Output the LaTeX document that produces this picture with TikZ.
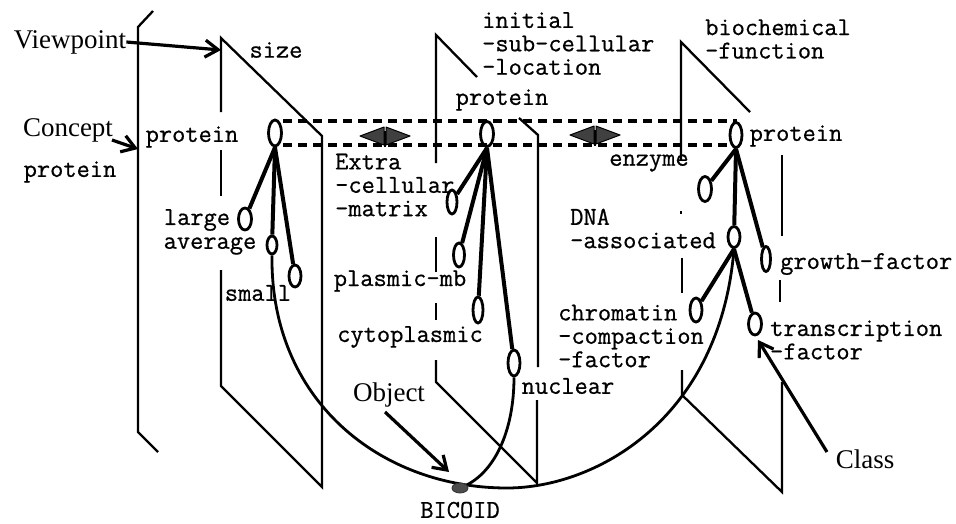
\documentclass[tikz,border=0pt]{standalone}
\usepackage{fontspec}
\setmainfont{Liberation Serif}
\newfontfamily\monolbl{Latin Modern Mono}[FakeBold=0.7]
\usetikzlibrary{arrows.meta,shapes.geometric,backgrounds}
\begin{document}
\begin{tikzpicture}[x=1pt,y=-1pt,
  lbl/.style={font=\fontsize{25.7}{23.4}\selectfont\monolbl, inner sep=0pt, align=left},
  big/.style={font=\fontsize{27}{30}\selectfont, inner sep=0pt},
  ov/.style={ellipse, draw, line width=2.8pt, inner sep=0pt},
  plane/.style={line width=2.3pt, line join=miter},
  edge/.style={line width=4pt},
  ptr/.style={line width=3.2pt, -{Straight Barb[length=13pt,width=17pt,line width=3.2pt]}},
  dsh/.style={line width=3.2pt, dash pattern=on 9pt off 6pt},
  arcline/.style={line width=2.8pt},
  dbl/.style={fill=black!75, draw=black, line width=1pt, line join=round},
]
\useasboundingbox (0,0) rectangle (956,523);

% ---- planes ----
\draw[plane] (153,11) -- (138,27) -- (138,432) -- (158,452);
\draw[plane] (221,112) -- (221,38) -- (322,136) -- (322,487) -- (221,386) -- (221,270);
\draw[plane] (221,150) -- (221,196);
\draw[plane] (436,163) -- (436,35) -- (477,77);
\draw[plane] (519,118) -- (538,135) -- (538,367);
\draw[plane] (436,237) -- (436,272);
\draw[plane] (436,303) -- (436,320);
\draw[plane] (436,360) -- (436,382) -- (537,483) -- (537,400);
\draw[plane] (681,160) -- (681,42) -- (750,112);
\draw[plane] (782,155) -- (782,236);
\draw[plane] (780,280) -- (780,302);
\draw[plane] (682,258) -- (682,293);
\draw[plane] (682,370) -- (682,395) -- (782,492) -- (782,382);
\draw[plane] (681,211) -- (681,214);

% ---- dashed links ----
\draw[dsh] (283,121) -- (737,121);
\draw[dsh] (283,145) -- (728,145);

% ---- double arrows ----
\draw[dbl] (360,136) -- (384,127) -- (384,145) -- cycle;
\draw[dbl] (410,136) -- (386,127) -- (386,145) -- cycle;
\draw[line width=2.4pt] (385,131) -- (385,147);
\draw[dbl] (570,135) -- (594,126) -- (594,144) -- cycle;
\draw[dbl] (620,135) -- (596,126) -- (596,144) -- cycle;
\draw[line width=2.4pt] (595,130) -- (595,146);

% ---- ellipses (concept nodes) ----
\node[ov, minimum width=13pt, minimum height=26pt] (s0) at (275,133) {};
\node[ov, minimum width=13pt, minimum height=22pt] (s1) at (245,219) {};
\node[ov, minimum width=10pt, minimum height=18pt] (s2) at (272,245) {};
\node[ov, minimum width=12pt, minimum height=22pt] (s3) at (295,276) {};

\node[ov, minimum width=13pt, minimum height=25pt] (m0) at (487,134) {};
\node[ov, minimum width=10pt, minimum height=24pt] (m1) at (452,202) {};
\node[ov, minimum width=11pt, minimum height=24pt] (m2) at (459,255) {};
\node[ov, minimum width=10pt, minimum height=26pt] (m3) at (478,310) {};
\node[ov, minimum width=12pt, minimum height=26pt] (m4) at (514,363) {};

\node[ov, minimum width=12pt, minimum height=25pt] (r0) at (736,135) {};
\node[ov, minimum width=13pt, minimum height=25pt] (r1) at (705,189) {};
\node[ov, minimum width=12pt, minimum height=21pt] (r2) at (734,237) {};
\node[ov, minimum width=9pt, minimum height=25pt] (r3) at (766,259) {};
\node[ov, minimum width=12pt, minimum height=24pt] (r4) at (696,310) {};
\node[ov, minimum width=13pt, minimum height=22pt] (r5) at (755,324) {};

\node[ellipse, fill=black!70, draw=black!80, line width=0.8pt, minimum width=16pt,
      minimum height=10pt, inner sep=0pt] (bic) at (460,488) {};

% ---- tree edges ----
\draw[edge] (s0.south) -- (s1);
\draw[edge] (s0.south) -- (s2);
\draw[edge] (s0.south) -- (s3);
\draw[edge] (m0.south) -- (m1);
\draw[edge] (m0.south) -- (m2);
\draw[edge] (m0.south) -- (m3);
\draw[edge] (m0.south) -- (m4);
\draw[edge] (r0.south) -- (r1);
\draw[edge] (r0.south) -- (r2);
\draw[edge] (r0.south) -- (r3);
\draw[edge] (r2.south) -- (r4);
\draw[edge] (r2.south) -- (r5);

% ---- object arcs ----
\begin{scope}[on background layer]
\draw[arcline] (s2.south) .. controls (270,400) and (380,488) .. (507,488)
  .. controls (595,488) and (720,420) .. (r2.south);
\draw[arcline] (bic.center) .. controls (495,475) and (514,430) .. (m4.south);
\end{scope}

% ---- labels ----
\node[big] (vp) at (70,42) {Viewpoint};
\node[big] (cn) at (68,130) {Concept};
\node[lbl] (cprot) at (70,172) {protein};
\node[big] (obj) at (389,395) {Object};
\node[big] (cls) at (865,459) {Class};

\node[lbl] (tsize) at (276,50) {size};
\node[lbl] (tsprot) at (192,137) {protein};
\node[lbl] (tlarge) at (197,220) {large};
\node[lbl] (taver) at (210,246) {average};
\node[lbl] (tsmall) at (258,293) {small};

\node[lbl, anchor=west] (tinit) at (482,43.5) {initial\\-sub-cellular\\-location};
\node[lbl] (tmprot) at (502,100) {protein};
\node[lbl, anchor=west] (textra) at (335,185) {Extra\\-cellular\\-matrix};
\node[lbl] (tplas) at (400,281) {plasmic-mb};
\node[lbl] (tcyto) at (410,337) {cytoplasmic};
\node[lbl] (tnucl) at (568,386) {nuclear};

\node[lbl, anchor=west] (tbio) at (705,39) {biochemical\\-function};
\node[lbl] (trprot) at (796,136) {protein};
\node[lbl] (tenz) at (649,163) {enzyme};
\node[lbl, anchor=west] (tdna) at (570,228.5) {DNA\\-associated};
\node[lbl, anchor=west] (tgrow) at (780,264) {growth-factor};
\node[lbl, anchor=west] (tchrom) at (558,336) {chromatin\\-compaction\\-factor};
\node[lbl, anchor=west] (ttrans) at (770,340) {transcription\\-factor};
\node[lbl] (tbic) at (460,510) {BICOID};

% ---- pointer arrows ----
\coordinate (vptip) at (221,50);
\coordinate (cptip) at (138,149);
\coordinate (objtip) at (449,472);
\coordinate (clstip) at (758,340);
\coordinate (objstart) at (385,412);
\coordinate (clsstart) at (827,452);
\coordinate (cnstart) at (112,140);
\draw[ptr] (vp.east) -- (vptip);
\draw[ptr] (cnstart) -- (cptip);
\draw[ptr] (objstart) -- (objtip);
\draw[ptr] (clsstart) -- (clstip);
\end{tikzpicture}
\end{document}
